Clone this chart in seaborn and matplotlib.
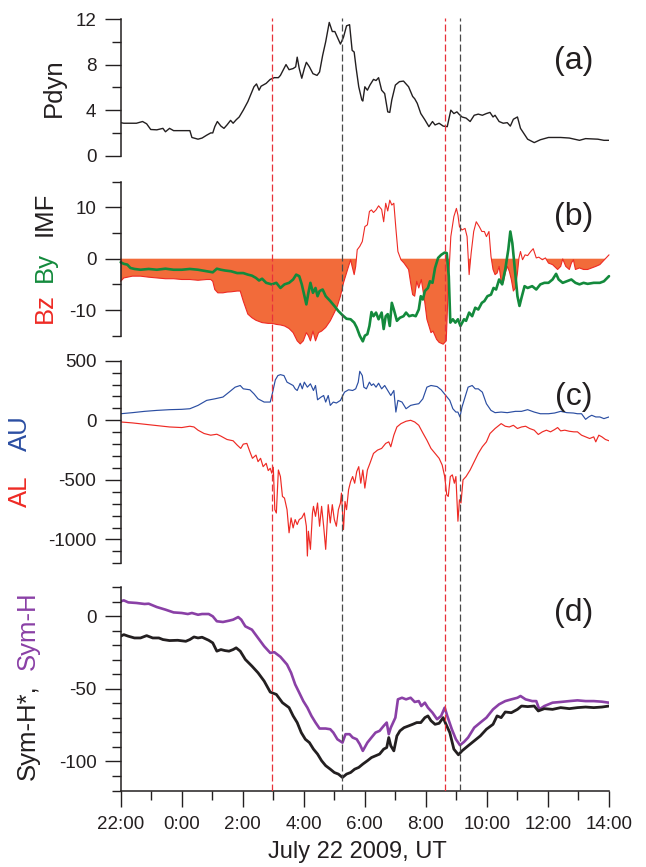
import matplotlib
matplotlib.use("Agg")
import matplotlib.pyplot as plt
from matplotlib.ticker import MultipleLocator, FixedLocator
import numpy as np
import pandas as pd
import seaborn as sns

# ---------------------------------------------------------------------------
# Data: (minutes after 22:00 UT on July 21, value)
# ---------------------------------------------------------------------------
PDYN = [(0, 2.9), (6, 2.85), (31, 2.85), (43, 3.0), (51, 2.8), (59, 2.3), (71, 2.27), (83, 2.4),
        (88, 2.1), (96, 2.4), (104, 2.2), (120, 2.2), (136, 2.2), (140, 1.6), (152, 1.45), (160, 1.55),
        (169, 1.8), (177, 2.0), (181, 2.0), (185, 2.55), (190, 3.0), (197, 2.6), (203, 2.4), (209, 2.7),
        (216, 3.1), (221, 2.85), (227, 3.15), (233, 3.4), (241, 4.0), (250, 4.75), (255, 5.3), (262, 6.05),
        (267, 6.3), (272, 5.75), (276, 6.1), (286, 6.35), (294, 6.7), (302, 6.85), (310, 6.85), (314, 7.05),
        (321, 7.65), (325, 8.0), (331, 7.55), (339, 7.65), (344, 7.8), (347, 8.65), (351, 7.65), (356, 6.8),
        (361, 7.65), (365, 8.2), (371, 7.8), (378, 7.2), (386, 7.05), (391, 7.35), (397, 8.8), (403, 10.0),
        (410, 11.7), (416, 10.9), (421, 10.9), (426, 10.4), (432, 9.8), (438, 10.4), (444, 11.4), (450, 11.5),
        (455, 9.25), (459, 9.1), (463, 7.65), (468, 6.05), (474, 4.9), (476, 4.8), (480, 6.05), (485, 5.75),
        (490, 6.2), (497, 6.7), (502, 6.6), (507, 6.85), (513, 5.75), (519, 5.45), (525, 3.85), (529, 3.8),
        (533, 4.9), (540, 6.2), (548, 6.5), (556, 6.55), (566, 6.05), (574, 5.2), (578, 5.0), (583, 4.6),
        (590, 3.7), (598, 3.15), (606, 2.55), (613, 3.0), (618, 2.7), (626, 2.85), (634, 2.6), (642, 2.55),
        (649, 4.0), (655, 3.7), (661, 3.85), (665, 3.65), (671, 3.4), (679, 3.3), (687, 3.0), (695, 3.55),
        (703, 3.65), (711, 3.55), (719, 3.7), (726, 3.8), (732, 3.4), (736, 3.55), (744, 3.0), (752, 2.85),
        (760, 2.9), (766, 2.6), (772, 3.2), (780, 3.4), (786, 2.4), (792, 2.0), (800, 1.45), (813, 1.15),
        (825, 1.4), (841, 1.6), (865, 1.6), (882, 1.55), (902, 1.35), (914, 1.5), (938, 1.45), (950, 1.35),
        (960, 1.35)]

IMF_BZ = [(0, -4.4), (6, -3.75), (23, -3.4), (39, -3.4), (55, -3.6), (71, -3.75), (88, -3.9), (104, -3.9),
          (120, -4.05), (136, -4.05), (152, -4.2), (169, -4.05), (177, -4.05), (181, -4.4), (185, -6.0),
          (191, -6.65), (201, -6.65), (209, -6.5), (217, -6.45), (229, -6.3), (235, -6.3), (241, -8.25),
          (250, -10.8), (258, -11.5), (266, -12.0), (278, -12.45), (290, -12.6), (298, -12.6), (306, -12.8),
          (314, -12.9), (322, -13.1), (331, -13.6), (339, -14.4), (347, -16.0), (353, -16.6), (359, -16.0),
          (365, -14.4), (369, -15.0), (373, -16.0), (378, -14.1), (383, -16.0), (389, -14.4), (395, -14.1),
          (403, -13.4), (412, -12.1), (420, -10.5), (426, -9.2), (432, -7.3), (438, -4.7), (442, -3.4),
          (448, -1.5), (452, -0.2), (455, -1.5), (459, -3.1), (462, -1.5), (465, 1.75), (470, 2.4), (475, 3.35),
          (480, 6.25), (485, 6.6), (489, 9.2), (493, 9.5), (497, 9.0), (502, 9.5), (507, 10.3), (513, 9.6),
          (517, 7.2), (521, 10.8), (525, 9.3), (529, 11.4), (533, 10.45), (537, 10.8), (541, 5.9), (545, 1.4),
          (551, -0.2), (557, -0.85), (566, -2.1), (570, -4.7), (574, -7.0), (578, -7.3), (582, -4.4),
          (586, -5.7), (591, -4.05), (598, -8.6), (602, -11.8), (606, -13.1), (610, -14.4), (614, -14.1),
          (621, -15.7), (626, -16.3), (634, -16.65), (640, -16.0), (644, -5.35), (649, 4.3), (655, 8.2),
          (660, 9.8), (663, 8.5), (666, 6.25), (671, 5.6), (677, 5.9), (681, 4.3), (685, -3.1), (689, 1.1),
          (694, 5.3), (699, 7.2), (705, 6.25), (710, 5.3), (715, 5.3), (719, 4.3), (724, 5.3), (728, 0.45),
          (732, -2.1), (736, -3.1), (740, -2.8), (744, -1.5), (748, -4.4), (752, -4.7), (756, -2.8),
          (760, -1.5), (764, -2.45), (768, -4.05), (772, -6.3), (776, -5.7), (780, -2.8), (783, 0.15),
          (786, 1.4), (790, -0.2), (795, 0.75), (800, 0.6), (806, 1.4), (811, 1.95), (817, 0.15), (822, 0.3),
          (829, -0.2), (835, 0.15), (841, -0.85), (849, -1.15), (859, -2.1), (865, -1.5), (869, -0.05),
          (875, -1.5), (882, -2.1), (886, -0.85), (890, -0.2), (894, -2.1), (902, -1.8), (910, -2.1),
          (918, -2.1), (926, -1.8), (934, -1.5), (942, -1.15), (950, -0.3), (960, 0.75)]

IMF_BY = [(0, -0.7), (6, -1.0), (13, -1.15), (19, -1.8), (27, -2.0), (39, -2.15), (55, -2.0), (71, -2.15),
          (88, -1.95), (104, -2.15), (120, -2.15), (136, -2.0), (152, -2.15), (169, -2.45), (181, -2.65),
          (189, -1.95), (197, -2.15), (205, -2.3), (217, -2.45), (229, -2.8), (241, -2.8), (250, -3.1),
          (258, -3.3), (266, -3.75), (272, -4.25), (278, -3.9), (286, -4.7), (297, -5.0), (306, -4.7),
          (314, -5.7), (322, -5.0), (331, -4.7), (339, -4.05), (345, -3.1), (351, -3.4), (356, -5.0),
          (365, -8.9), (369, -6.65), (373, -4.7), (378, -6.65), (383, -5.7), (387, -7.3), (391, -6.3),
          (397, -6.0), (403, -7.3), (412, -8.25), (420, -9.2), (428, -10.2), (436, -11.0), (444, -11.7),
          (452, -11.8), (459, -12.45), (464, -13.4), (470, -15.0), (476, -16.1), (480, -15.0), (485, -14.7),
          (489, -13.1), (493, -10.4), (497, -11.2), (502, -10.5), (507, -11.8), (513, -10.5), (517, -13.7),
          (521, -11.2), (525, -10.8), (529, -13.1), (533, -8.6), (537, -9.9), (543, -12.1), (549, -11.5),
          (556, -11.2), (561, -10.5), (567, -11.2), (574, -11.0), (580, -11.2), (586, -9.9), (590, -7.3),
          (594, -7.95), (598, -6.3), (604, -5.7), (608, -4.4), (613, -4.7), (618, -1.8), (624, 0.15),
          (630, 0.75), (637, 1.2), (641, 1.1), (645, -3.4), (648, -12.45), (653, -11.8), (658, -12.45),
          (663, -11.8), (668, -13.1), (675, -11.8), (679, -12.1), (685, -10.5), (691, -11.2), (697, -9.55),
          (703, -9.9), (710, -8.6), (715, -8.25), (721, -7.3), (728, -7.0), (733, -5.7), (738, -6.0),
          (744, -4.05), (750, -5.0), (756, -2.1), (762, 1.75), (766, 5.3), (770, 3.0), (775, -2.1),
          (780, -7.3), (784, -9.2), (788, -7.6), (794, -5.35), (800, -5.7), (809, -5.35), (817, -6.0),
          (825, -5.0), (833, -4.7), (841, -4.7), (849, -4.05), (856, -2.95), (861, -4.05), (869, -4.7),
          (877, -4.4), (886, -4.05), (894, -4.7), (902, -5.0), (910, -4.7), (918, -4.9), (930, -4.7),
          (942, -4.7), (950, -4.4), (960, -3.4)]

AU = [(0, 55), (23, 64), (47, 75), (71, 83), (96, 89), (120, 92), (136, 97), (152, 125), (169, 167), (185, 180),
      (201, 195), (213, 236), (225, 278), (235, 292), (241, 264), (254, 256), (262, 222), (270, 180), (282, 153),
      (294, 153), (298, 222), (304, 339), (309, 375), (314, 383), (321, 375), (327, 320), (333, 306), (339, 292),
      (343, 264), (347, 250), (353, 311), (357, 264), (361, 320), (367, 278), (373, 306), (379, 250), (383, 292),
      (387, 172), (394, 195), (399, 208), (403, 153), (408, 208), (412, 125), (418, 153), (424, 145), (432, 167),
      (440, 236), (448, 256), (456, 250), (462, 264), (467, 320), (470, 411), (475, 375), (478, 278), (483, 264),
      (489, 320), (493, 292), (497, 306), (502, 278), (507, 311), (513, 264), (519, 292), (525, 250), (531, 208),
      (537, 250), (541, 69), (545, 167), (553, 153), (561, 97), (570, 125), (578, 133), (586, 139), (594, 180),
      (602, 278), (610, 292), (622, 283), (630, 256), (638, 214), (647, 167), (653, 97), (659, 69), (663, 69),
      (667, 28), (671, 111), (677, 195), (683, 278), (691, 292), (697, 264), (703, 264), (711, 236), (719, 139),
      (728, 83), (736, 64), (748, 69), (760, 64), (776, 75), (788, 75), (800, 89), (813, 69), (825, 55),
      (841, 55), (853, 61), (865, 75), (877, 64), (890, 61), (898, 55), (906, 55), (914, 8), (920, 28),
      (926, 42), (934, 28), (942, 28), (950, 14), (960, 28)]

AL = [(0, -14), (23, -22), (47, -33), (71, -44), (96, -56), (120, -61), (136, -50), (144, -56), (152, -83),
      (164, -111), (177, -125), (189, -117), (197, -133), (209, -161), (221, -172), (229, -208), (236, -236),
      (241, -200), (248, -194), (254, -264), (259, -319), (266, -292), (270, -347), (275, -319), (280, -389),
      (286, -361), (290, -422), (294, -403), (297, -444), (300, -394), (303, -750), (306, -778), (310, -417),
      (314, -472), (318, -639), (322, -653), (327, -750), (331, -944), (335, -819), (339, -903), (343, -833),
      (347, -875), (351, -833), (356, -819), (361, -778), (365, -889), (367, -1139), (369, -931), (373, -1083),
      (377, -778), (379, -722), (383, -806), (387, -694), (391, -889), (395, -722), (399, -889), (403, -1083),
      (408, -708), (412, -861), (416, -708), (420, -833), (424, -889), (428, -750), (432, -694), (434, -611),
      (438, -917), (441, -681), (444, -750), (448, -583), (452, -514), (456, -472), (460, -528), (464, -431),
      (468, -389), (472, -528), (476, -417), (480, -569), (485, -417), (490, -361), (497, -278), (505, -250),
      (513, -236), (521, -194), (527, -181), (531, -222), (537, -125), (543, -56), (551, -28), (561, -8),
      (570, 0), (578, -14), (586, -42), (594, -106), (602, -167), (610, -236), (618, -278), (626, -319),
      (632, -375), (637, -472), (641, -625), (644, -639), (648, -472), (652, -458), (656, -528), (659, -472),
      (663, -847), (666, -667), (669, -694), (673, -500), (679, -472), (687, -417), (695, -347), (703, -278),
      (711, -222), (719, -181), (726, -111), (736, -69), (748, -28), (756, -50), (764, -56), (772, -42),
      (780, -69), (788, -56), (796, -50), (804, -69), (813, -83), (821, -119), (829, -97), (837, -83),
      (845, -97), (853, -78), (859, -61), (865, -89), (873, -83), (882, -92), (891, -97), (898, -97),
      (906, -125), (914, -139), (922, -153), (930, -139), (934, -181), (940, -125), (946, -139), (953, -161),
      (960, -172)]

SYM_H = [(0, 10.3), (6, 11), (15, 9.6), (31, 9.2), (47, 8.5), (55, 8.7), (71, 6.4), (88, 4.6), (104, 2.7),
         (120, 2.3), (132, 1.6), (140, 2.3), (152, 1.1), (160, 1.6), (173, 1.6), (181, 0), (189, -3.4),
         (201, -3.9), (213, -3.0), (221, -2.3), (231, -0.5), (237, -2.3), (245, -6.9), (258, -9.2),
         (270, -14.9), (282, -20.6), (294, -25.2), (302, -24.7), (314, -27.9), (327, -33.2), (335, -38.9),
         (343, -46.9), (351, -52.6), (359, -58.4), (367, -62.9), (375, -68.6), (383, -73.2), (391, -77.3),
         (403, -77.3), (412, -77.8), (418, -80.1), (426, -84.7), (436, -87.0), (442, -81.2), (450, -81.2),
         (456, -83.5), (464, -84.7), (470, -88.1), (476, -92.7), (485, -87.0), (493, -83.5), (501, -80.1),
         (509, -78.9), (517, -75.5), (523, -73.2), (527, -81.2), (531, -76.7), (540, -69.8), (545, -57.2),
         (553, -56.1), (561, -57.2), (570, -56.1), (578, -59.0), (586, -58.4), (591, -61.8), (598, -59.5),
         (604, -62.9), (613, -66.4), (622, -70.9), (630, -68.6), (637, -62.9), (642, -68.6), (651, -77.8),
         (659, -84.7), (667, -88.8), (675, -86.5), (683, -83.5), (695, -76.7), (707, -73.2), (719, -69.8),
         (732, -64.1), (744, -60.6), (756, -58.4), (768, -57.2), (780, -56.1), (786, -54.9), (796, -57.2),
         (809, -58.4), (817, -58.4), (823, -64.1), (833, -61.8), (849, -59.5), (865, -59.0), (882, -58.4),
         (898, -57.9), (914, -58.4), (930, -58.4), (946, -58.8), (960, -59.5)]

SYM_H_STAR = [(0, -13.7), (6, -12.6), (15, -13.7), (27, -14.9), (39, -14.9), (51, -13.3), (63, -14.9),
              (75, -14.9), (83, -16.0), (96, -16.7), (112, -16.5), (128, -17.2), (136, -16.0), (144, -14.2),
              (152, -14.9), (160, -14.4), (173, -16.5), (181, -18.3), (189, -24.0), (197, -22.9), (205, -23.6),
              (213, -24.0), (221, -22.9), (227, -21.7), (235, -24.0), (245, -29.7), (258, -34.3), (270, -38.9),
              (282, -44.6), (294, -52.2), (306, -53.8), (318, -59.5), (331, -62.9), (339, -68.6), (347, -73.2),
              (355, -80.1), (363, -84.7), (371, -87.0), (379, -91.5), (387, -94.9), (395, -99.5), (403, -102.9),
              (412, -105.3), (420, -107.6), (428, -108.7), (436, -111.0), (444, -108.7), (452, -107.6),
              (460, -105.3), (468, -104.1), (476, -101.8), (485, -99.5), (493, -97.3), (501, -96.1),
              (509, -94.9), (517, -91.5), (523, -90.4), (527, -83.5), (531, -89.2), (537, -92.7), (543, -82.4),
              (549, -78.9), (557, -76.7), (566, -75.5), (574, -74.4), (582, -73.2), (590, -73.2), (598, -69.8),
              (604, -68.6), (610, -71.9), (618, -74.4), (626, -73.7), (634, -69.8), (638, -73.2), (647, -80.1),
              (655, -91.5), (664, -95.4), (671, -92.7), (683, -89.2), (695, -85.8), (707, -82.4), (719, -77.8),
              (732, -74.4), (740, -68.6), (748, -69.8), (756, -65.9), (768, -66.4), (780, -64.1), (788, -61.8),
              (800, -62.2), (813, -61.8), (821, -65.2), (833, -63.6), (849, -64.1), (865, -62.9), (882, -63.6),
              (898, -62.9), (914, -62.5), (930, -62.9), (946, -62.5), (960, -61.8)]

# Event markers (minutes after 22:00 UT) and their colours
EVENT_MINUTES = [297, 436, 638, 667]
EVENT_KINDS = ["onset", "peak", "onset", "peak"]

TIME_TICK_LABELS = ["22:00", "0:00", "2:00", "4:00", "6:00", "8:00", "10:00", "12:00", "14:00"]

# ---------------------------------------------------------------------------
# Style
# ---------------------------------------------------------------------------
sns.set_style("ticks")
plt.rcParams["font.family"] = ["Liberation Sans", "DejaVu Sans"]
plt.rcParams["axes.unicode_minus"] = False
plt.rcParams["lines.scale_dashes"] = False

INK = "#231f20"
RED = "#ee2a24"
GREEN = "#138a3c"
BLUE = "#2b4ea2"
PURPLE = "#8a40a6"
FILL = "#f26b3a"
EVENT_COLORS = {"onset": "#e8323a", "peak": "#4a4a4a"}

W_PX, H_PX = 646, 867
fig = plt.figure(figsize=(W_PX / 100, H_PX / 100), dpi=100)


def px(x, y):
    """Pixel position (from top-left) to figure fraction."""
    return x / W_PX, 1 - y / H_PX


def rect(top, bottom, left=120.7, right=609.0):
    return [left / W_PX, 1 - bottom / H_PX, (right - left) / W_PX, (bottom - top) / H_PX]


ax_a = fig.add_axes(rect(19.0, 155.7))
ax_b = fig.add_axes(rect(181.7, 335.7))
ax_c = fig.add_axes(rect(360.7, 563.3))
ax_d = fig.add_axes(rect(587.3, 790.5))
axes = [ax_a, ax_b, ax_c, ax_d]


def frame(pairs):
    df = pd.DataFrame(pairs, columns=["minute", "value"])
    df["hour"] = df["minute"] / 60.0
    return df


def trace(ax, pairs, color, lw, clip=True):
    df = frame(pairs)
    n0 = len(ax.lines)
    sns.lineplot(data=df, x="hour", y="value", ax=ax, color=color, linewidth=lw,
                 estimator=None, sort=False, legend=False)
    for ln in ax.lines[n0:]:
        ln.set_clip_on(clip)
        ln.set_solid_joinstyle("round")
    return df


# (a) solar wind dynamic pressure
trace(ax_a, PDYN, INK, 1.0)

# (b) IMF Bz (filled where southward) and By
bz = frame(IMF_BZ)
ax_b.fill_between(bz["hour"], bz["value"], 0, where=bz["value"] < 0, interpolate=True,
                  color=FILL, linewidth=0, clip_on=False, zorder=1)
trace(ax_b, IMF_BZ, RED, 0.8, clip=False)
trace(ax_b, IMF_BY, GREEN, 1.9, clip=False)

# (c) auroral electrojet indices
trace(ax_c, AU, BLUE, 0.85)
trace(ax_c, AL, RED, 0.85)

# (d) Sym-H and pressure-corrected Sym-H*
trace(ax_d, SYM_H, PURPLE, 1.9)
trace(ax_d, SYM_H_STAR, INK, 2.0)

limits = {ax_a: (0, 12), ax_b: (-15, 15), ax_c: (-1200, 500), ax_d: (-120, 20)}
majors = {ax_a: [0, 4, 8, 12], ax_b: [-10, 0, 10], ax_c: [-1000, -500, 0, 500], ax_d: [-100, -50, 0]}
minors = {ax_a: 2, ax_b: 5, ax_c: 100, ax_d: 10}

for ax in axes:
    ax.set_xlim(0, 16)
    ax.set_ylim(*limits[ax])
    ax.set_xlabel("")
    ax.set_ylabel("")
    ax.patch.set_alpha(0)
    for side in ("top", "right"):
        ax.spines[side].set_visible(False)
    ax.spines["left"].set_color(INK)
    ax.spines["left"].set_linewidth(1.1)
    ax.yaxis.set_major_locator(FixedLocator(majors[ax]))
    ax.yaxis.set_minor_locator(MultipleLocator(minors[ax]))
    ax.tick_params(axis="y", which="major", direction="out", length=11.5, width=1.0,
                   pad=6, labelsize=13.5, color=INK, labelcolor=INK)
    ax.tick_params(axis="y", which="minor", direction="out", length=6.5, width=1.0, color=INK)
    if ax is not ax_d:
        ax.spines["bottom"].set_visible(False)
        ax.tick_params(axis="x", which="both", bottom=False, labelbottom=False)

ax_d.spines["bottom"].set_color(INK)
ax_d.spines["bottom"].set_linewidth(1.1)
ax_d.xaxis.set_major_locator(FixedLocator(np.arange(0, 17, 2)))
ax_d.set_xticklabels(TIME_TICK_LABELS)
ax_d.xaxis.set_minor_locator(MultipleLocator(1))
ax_d.tick_params(axis="x", which="major", direction="out", length=11.5, width=1.0,
                 pad=7, labelsize=13.5, color=INK, labelcolor=INK)
ax_d.tick_params(axis="x", which="minor", direction="out", length=6.5, width=1.0, color=INK)

# Event lines running through all four panels
overlay = fig.add_axes(rect(18.0, 790.5), zorder=5)
overlay.set_xlim(0, 16)
overlay.set_ylim(0, 1)
overlay.axis("off")
for minute, kind in zip(EVENT_MINUTES, EVENT_KINDS):
    overlay.axvline(minute / 60.0, color=EVENT_COLORS[kind], linewidth=0.9, linestyle=(0, (5, 2.2)))

# Panel tags
for tag, ypix in zip(["(a)", "(b)", "(c)", "(d)"], [61, 217.5, 396.7, 612.5]):
    fig.text(*px(573.5, ypix), tag, fontsize=23, ha="center", va="center", color=INK)

# Multi-coloured rotated axis labels
LAB = 18.5
fig.text(*px(54, 87.5), "Pdyn", rotation=90, ha="center", va="center", fontsize=LAB, color=INK)
fig.text(*px(45, 214.2), "IMF", rotation=90, ha="center", va="center", fontsize=LAB, color=INK)
fig.text(*px(45, 267.4), "By", rotation=90, ha="center", va="center", fontsize=LAB, color=GREEN)
fig.text(*px(45, 308.0), "Bz", rotation=90, ha="center", va="center", fontsize=LAB, color=RED)
fig.text(*px(20, 433.3), "AU", rotation=90, ha="center", va="center", fontsize=LAB, color=BLUE)
fig.text(*px(20, 490.8), "AL", rotation=90, ha="center", va="center", fontsize=LAB, color=RED)
fig.text(*px(28, 630.8), "Sym-H", rotation=90, ha="center", va="center", fontsize=LAB, color=PURPLE)
fig.text(*px(28, 732.5), "Sym-H*,", rotation=90, ha="center", va="center", fontsize=LAB, color=INK)

fig.text(*px(357.5, 851.7), "July 22 2009, UT", ha="center", va="center", fontsize=17, color=INK)

fig.savefig("out.png", dpi=100)
